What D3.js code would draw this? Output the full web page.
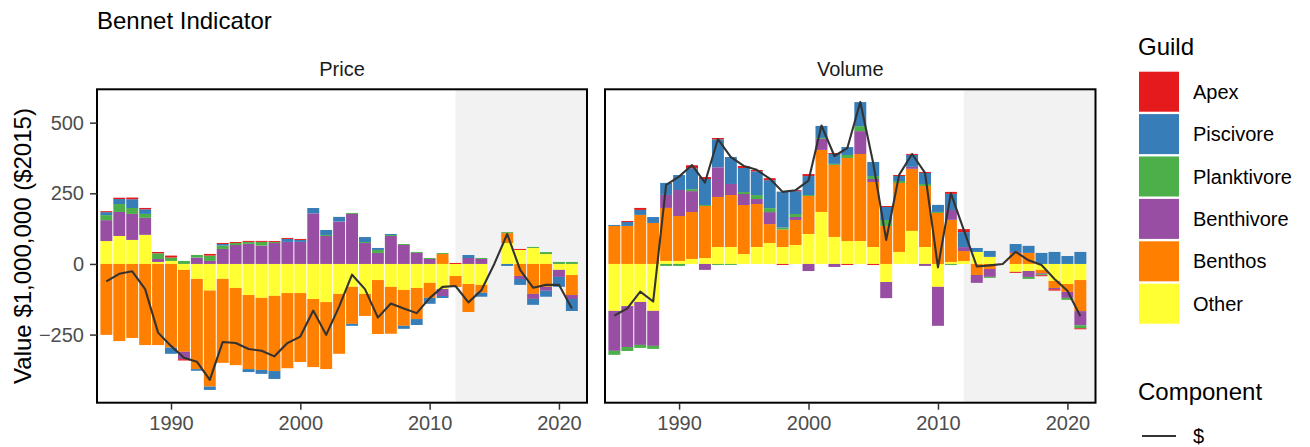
<!DOCTYPE html>
<html><head><meta charset="utf-8">
<script src="https://cdn.jsdelivr.net/npm/d3@7"></script>
<style>
body{margin:0;background:#fff}
text{font-family:"Liberation Sans",Arial,Helvetica,sans-serif}
</style>
</head><body>
<svg id="c" width="1310" height="447"></svg>
<script>
// ---------- DATA ----------
const years = [1985,1986,1987,1988,1989,1990,1991,1992,1993,1994,1995,1996,1997,1998,1999,2000,2001,2002,2003,2004,2005,2006,2007,2008,2009,2010,2011,2012,2013,2014,2015,2016,2017,2018,2019,2020,2021];
const guilds = ["Apex","Piscivore","Planktivore","Benthivore","Benthos","Other"];
const guildColors = ["#E41A1C","#377EB8","#4DAF4A","#984EA3","#FF7F00","#FFFF33"];
const panelNames = ["Price","Volume"];
const xTicks = [1990,2000,2010,2020];
const yTicks = [-250,0,250,500];
const projectionStart = 2012;

const priceApex = [3.5,4.7,6,4.7,4.7,7,-4.7,0,5.9,3.5,3.5,3.5,3.5,3.5,3.5,3.5,0,0,0,0,0,0,0,0,0,0,0,3.5,0,0,0,0,3.5,0,0,0,0];
const pricePiscivore = [10.6,17.7,31,16.5,0,-22,0,-6,-11.8,5.9,0,-10.6,-14,-28,10.6,7,19,17.7,16.5,-7,17.7,7,3.5,-10.6,-21,-21,-7,0,10.6,-14,0,-7,-21,-21,-21,-35,-42.5];
const pricePlanktivore = [17.7,28,21,14,20,12,10.6,9.4,18.9,11.8,7,7,13,3.5,0,0,0,3.5,0,3.5,3.5,10.6,3.5,3.5,3.5,3.5,3.5,0,0,3.5,0,3.5,0,3.5,7,7,7];
const priceBenthivore = [74,85,92,60,10.6,0,-26,22.4,10.6,53,67,71,65,74,78,78,179,99,150,177,74,39,99,67,39,17.7,-25,0,21,17.7,0,0,-10.6,-17.7,-14,-25,-14];
const priceBenthos = [-251,-273,-262,-287,-287,-296,-290,-319,-340,-297,-273,-262,-255,-266,-266,-244,-241,-237,-212,-131,-78,-191,-166,-127,-110,-53,35,-39,-99,-28,0,35,-42.5,-106,-81,0,-71];
const priceOther = [81,99,85,103,7,10.6,-21,-53,-94,-53,-85,-110,-120,-113,-103,-103,-124,-135,-106,-81,-106,-57,-81,-92,-85,-67,-88.5,-42.5,-71,-74,0,74,49.6,56.6,35,-21,-39];
const priceLine = [-62,-35,-26,-89,-243,-290,-332,-346,-410,-276,-280,-301,-307,-327,-280,-257,-165,-251,-151,-38,-89,-190,-140,-158,-174,-121,-81,-78,-136,-93,0,106,-21,-84,-74,-74,-158];

const volumeApex = [0,3.5,7,0,0,0,10.6,7,4.7,0,7,4.7,7,-3.5,3.5,7,0,3.5,-3.5,0,-3.5,3.5,3.5,3.5,3.5,0,7,10.6,0,0,0,-3.5,0,-3.5,-4.7,0,-3.5];
const volumePiscivore = [3.5,14,17.7,21,42.5,53,74,92,99,95.6,85,84,99,127,81,67,42.5,35,28,85,49.6,46,17.7,42.5,39,25,57,53,14,21,0,28,25,39,42.5,28,42.5];
const volumePlanktivore = [-14,-14,-10.6,-10.6,-7,-7,7,3.5,-3.5,-3.5,7,14,14,7,10.6,3.5,3.5,3.5,10.6,17.7,10.6,21,7,0,7,3.5,-3.5,0,0,-3.5,0,0,-7,-3.5,0,-7,-10.6];
const volumeBenthivore = [-141.6,-145,-152,-124,46,92,74,-21,105,39,39,17.7,42.5,0,10.6,-25,39,-10.6,0,81,10.6,-57,0,7,-7,-138,35,14,-28,-28,0,3.5,-21,-3.5,-4.7,-21,-50];
const volumeBenthos = [134.5,134.5,173.5,145,187.6,159,166,184,177,184,173.5,152,67,62,88.5,134.5,219.5,255,294,308,230,134.5,244,219.5,216,180.5,149,35,-39,-17.7,0,39,39,-11.8,-25,-28,-110];
const volumeOther = [-166,-149,-134.5,-166,10.6,10.6,17.7,21,60,60,35,60,74,60,67,106,184,95.6,81,81,60,-64,42.5,117,60,-81,7,10.6,42.5,25,0,-28,-25,-21,-60,-71,-57];
const volumeLine = [-183,-157,-98,-133,280,309,350,288,442,378,347,333,302,255,261,295,490,382,410,573,356,85,315,389,322,-12,250,120,-9,-5,0,43,13,-4,-53,-95,-185];

// ---------- BUILD ----------
const seriesByPanel = {
  Price: {Apex:priceApex,Piscivore:pricePiscivore,Planktivore:pricePlanktivore,Benthivore:priceBenthivore,Benthos:priceBenthos,Other:priceOther, line:priceLine},
  Volume:{Apex:volumeApex,Piscivore:volumePiscivore,Planktivore:volumePlanktivore,Benthivore:volumeBenthivore,Benthos:volumeBenthos,Other:volumeOther, line:volumeLine}
};
const color = d3.scaleOrdinal().domain(guilds).range(guildColors);
const stackOrder = guilds.slice().reverse(); // Other nearest zero ... Apex outermost

const svg = d3.select("#c");
const font = '"Liberation Sans",Arial,Helvetica,sans-serif';
const yTop = 89.3, yBottom = 402.7;
const panelX = [[97,587],[605,1095.5]];
const y = d3.scaleLinear().domain([-491,618]).range([yBottom, yTop]);

svg.append("text").attr("x",97).attr("y",29).attr("font-size",24).attr("fill","#000").text("Bennet Indicator");

svg.append("text").attr("transform","translate(31,246) rotate(-90)").attr("text-anchor","middle")
  .attr("font-size",24).attr("fill","#000").text("Value $1,000,000 ($2015)");

panelNames.forEach((pn,pi)=>{
  const [x0,x1] = panelX[pi];
  const x = d3.scaleLinear().domain([1984.277,2022.17]).range([x0,x1]);
  const g = svg.append("g");
  const S = seriesByPanel[pn];
  const rows = years.map((yr,i)=>{const o={year:yr}; guilds.forEach(k=>o[k]=S[k][i]); return o;});
  const stacked = d3.stack().keys(stackOrder).offset(d3.stackOffsetDiverging)(rows);

  g.append("rect").attr("x",x(projectionStart)).attr("y",yTop).attr("width",x1-x(projectionStart)).attr("height",yBottom-yTop).attr("fill","#F2F2F2");

  const bw = (x(1) - x(0)) - 1.0;
  stacked.forEach(layer=>{
    g.append("g").attr("fill",color(layer.key)).selectAll("rect").data(layer).join("rect")
      .attr("x",d=>x(d.data.year)-bw/2).attr("width",bw)
      .attr("y",d=>y(Math.max(d[0],d[1]))).attr("height",d=>Math.abs(y(d[0])-y(d[1])));
  });

  const line = d3.line().x((d,i)=>x(years[i])).y(d=>y(d));
  g.append("path").datum(S.line).attr("d",line).attr("fill","none").attr("stroke","#333333").attr("stroke-width",2.1).attr("stroke-linejoin","round");

  g.append("rect").attr("x",x0).attr("y",yTop).attr("width",x1-x0).attr("height",yBottom-yTop).attr("fill","none").attr("stroke","#000").attr("stroke-width",2);

  svg.append("text").attr("x",(x0+x1)/2).attr("y",76).attr("text-anchor","middle").attr("font-size",20).attr("fill","#1a1a1a").text(pn);

  const xa = svg.append("g").attr("transform",`translate(0,${yBottom})`)
    .call(d3.axisBottom(x).tickValues(xTicks).tickFormat(d3.format("d")).tickSize(7).tickPadding(6));
  xa.select(".domain").remove();
  xa.selectAll("line").attr("stroke","#333333").attr("stroke-width",1.5);
  xa.selectAll("text").attr("font-size",20).attr("fill","#4D4D4D").attr("font-family",font);

  if(pi===0){
    const ya = svg.append("g").attr("transform",`translate(${x0},0)`)
      .call(d3.axisLeft(y).tickValues(yTicks).tickSize(7).tickPadding(6));
    ya.select(".domain").remove();
    ya.selectAll("line").attr("stroke","#333333").attr("stroke-width",1.5);
    ya.selectAll("text").attr("font-size",20).attr("fill","#4D4D4D").attr("font-family",font);
  }
});

// ---------- LEGEND ----------
const lg = svg.append("g");
lg.append("text").attr("x",1138).attr("y",55).attr("font-size",24).attr("fill","#000").text("Guild");
guilds.forEach((k,i)=>{
  const ky = 71.7 + i*42.4;
  lg.append("rect").attr("x",1139).attr("y",ky).attr("width",40).attr("height",40).attr("fill",color(k));
  lg.append("text").attr("x",1193).attr("y",ky+20+7).attr("font-size",20).attr("fill","#000").text(k);
});
lg.append("text").attr("x",1138).attr("y",400).attr("font-size",24).attr("fill","#000").text("Component");
lg.append("line").attr("x1",1142).attr("x2",1176).attr("y1",436).attr("y2",436).attr("stroke","#333333").attr("stroke-width",2.1);
lg.append("text").attr("x",1193).attr("y",443).attr("font-size",20).attr("fill","#000").text("$");
</script>
</body></html>
